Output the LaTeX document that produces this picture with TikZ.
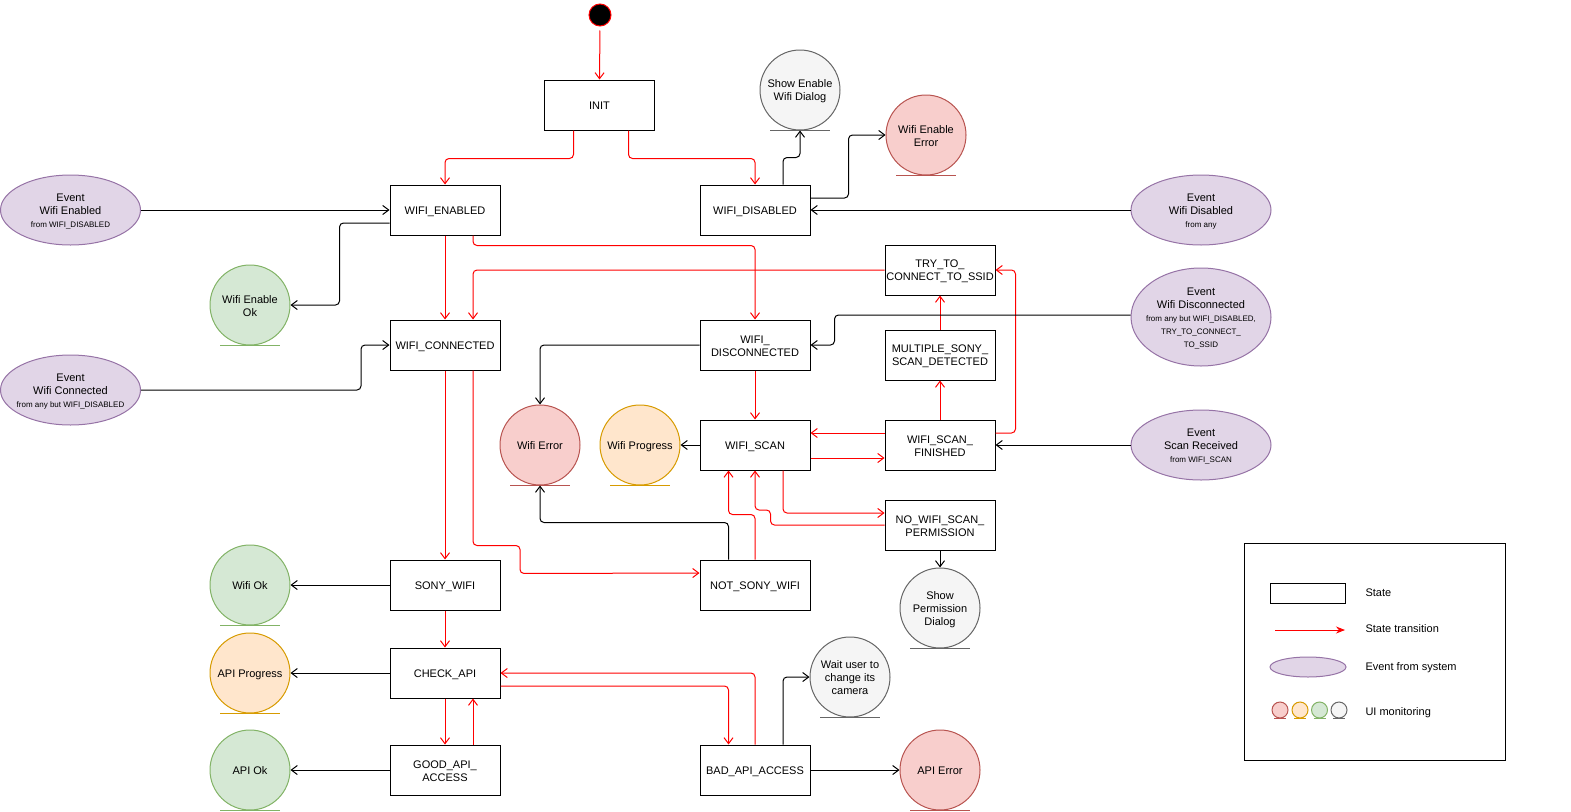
\documentclass[tikz,border=0pt]{standalone}
\usepackage{fontspec}
\setmainfont{Liberation Sans}
\usetikzlibrary{arrows.meta,shapes.geometric}
\definecolor{redS}{HTML}{B85450}\definecolor{redF}{HTML}{F8CECC}
\definecolor{orgS}{HTML}{D79B00}\definecolor{orgF}{HTML}{FFE6CC}
\definecolor{grnS}{HTML}{82B366}\definecolor{grnF}{HTML}{D5E8D4}
\definecolor{gryS}{HTML}{666666}\definecolor{gryF}{HTML}{F5F5F5}
\definecolor{purS}{HTML}{9673A6}\definecolor{purF}{HTML}{E1D5E7}
\definecolor{trRed}{HTML}{FF0000}
\newcommand\evsmall{\fontsize{8}{13}\selectfont}
\newcommand\tA{\rule{0pt}{11.1pt}}
\newcommand\tZ{\rule[-2.1pt]{0pt}{2.1pt}}
\begin{document}
\begin{tikzpicture}[x=1pt,y=-1pt,line width=1pt,font=\fontsize{11}{13}\selectfont,
  stbox/.style={draw=black,fill=white,minimum width=110pt,minimum height=50pt,inner sep=0pt,align=center},
  ui/.style={circle,minimum size=80pt,inner sep=0pt,align=center},
  uired/.style={ui,draw=redS,fill=redF},
  uiorg/.style={ui,draw=orgS,fill=orgF},
  uigrn/.style={ui,draw=grnS,fill=grnF},
  uigry/.style={ui,draw=gryS,fill=gryF},
  evt/.style={ellipse,draw=purS,fill=purF,minimum width=140pt,minimum height=70pt,inner sep=0pt},
  evtext/.style={align=center,inner sep=0pt},
  tr/.style={draw=trRed,-{Straight Barb[length=6pt,width=9pt]},rounded corners=4pt},
  ev/.style={draw=black,-{Straight Barb[length=6pt,width=9pt]},rounded corners=4pt},
  legtext/.style={anchor=west,inner sep=0pt}]
\useasboundingbox (0,0) rectangle (1571,811);

% start
\node[circle,fill=black,draw=trRed,minimum size=22pt,inner sep=0pt] (start) at (600,15) {};

% states
\node[stbox] (init) at (599.5,105) {\tA INIT\tZ};
\node[stbox] (wen) at (445,210) {\tA WIFI\_ENABLED\tZ};
\node[stbox] (wdis) at (755,210) {\tA WIFI\_DISABLED\tZ};
\node[stbox] (wcon) at (445,345) {\tA WIFI\_CONNECTED\tZ};
\node[stbox] (wdisc) at (755,345) {\tA WIFI\_\\DISCONNECTED\tZ};
\node[stbox] (try) at (940,270) {\tA TRY\_TO\_\\CONNECT\_TO\_SSID\tZ};
\node[stbox] (msd) at (940,355) {\tA MULTIPLE\_SONY\_\\SCAN\_DETECTED\tZ};
\node[stbox] (wscan) at (755,445) {\tA WIFI\_SCAN\tZ};
\node[stbox] (wsf) at (940,445) {\tA WIFI\_SCAN\_\\FINISHED\tZ};
\node[stbox] (nwsp) at (940,525) {\tA NO\_WIFI\_SCAN\_\\PERMISSION\tZ};
\node[stbox] (nsw) at (755,585) {\tA NOT\_SONY\_WIFI\tZ};
\node[stbox] (sony) at (445,585) {\tA SONY\_WIFI\tZ};
\node[stbox] (chk) at (445,673) {\tA CHECK\_API\tZ};
\node[stbox] (good) at (445,770) {\tA GOOD\_API\_\\ACCESS\tZ};
\node[stbox] (bad) at (755,770) {\tA BAD\_API\_ACCESS\tZ};

% UI circles
\node[uigry] (sed) at (800,90) {\tA Show Enable\\Wifi Dialog\tZ};
\node[uired] (wee) at (926,135) {\tA Wifi Enable\\Error\tZ};
\node[uigrn] (okEn) at (250,305) {\tA Wifi Enable\\Ok\tZ};
\node[uired] (werr) at (540,445) {\tA Wifi Error\tZ};
\node[uiorg] (wprog) at (640,445) {\tA Wifi Progress\tZ};
\node[uigry] (spd) at (940,608) {\tA Show\\Permission\\Dialog\tZ};
\node[uigry] (wait) at (850,677) {\tA Wait user to\\change its\\camera\tZ};
\node[uired] (aerr) at (940,770) {\tA API Error\tZ};
\node[uigrn] (wok) at (250,585) {\tA Wifi Ok\tZ};
\node[uiorg] (aprog) at (250,673) {\tA API Progress\tZ};
\node[uigrn] (aok) at (250,770) {\tA API Ok\tZ};
\foreach \n/\c in {sed/gryS,wee/redS,okEn/grnS,werr/redS,wprog/orgS,spd/gryS,wait/gryS,aerr/redS,wok/grnS,aprog/orgS,aok/grnS}
  \draw[\c] ([xshift=-30pt]\n.south) -- ([xshift=30pt]\n.south);

% events
\node[evt] (evEn) at (70.5,210) {};
\node[evtext] (evEnT) at (evEn) {\tA Event\\Wifi Enabled\\{\evsmall from WIFI\_DISABLED\tZ}};
\node[evt] (evCon) at (70.5,390) {};
\node[evtext] (evConT) at (evCon) {\tA Event\\Wifi Connected\\{\evsmall from any but WIFI\_DISABLED\tZ}};
\node[evt] (evDis) at (1201,210) {};
\node[evtext] (evDisT) at (evDis) {\tA Event\\Wifi Disabled\\{\evsmall from any\tZ}};
\node[evt,minimum height=98pt] (evDisc) at (1201,317) {};
\node[evtext] (evDiscT) at (evDisc) {\tA Event\\Wifi Disconnected\\{\evsmall from any but WIFI\_DISABLED,}\\{\evsmall TRY\_TO\_CONNECT\_}\\{\evsmall TO\_SSID\tZ}};
\node[evt] (evScan) at (1201,445) {};
\node[evtext] (evScanT) at (evScan) {\tA Event\\Scan Received\\{\evsmall from WIFI\_SCAN\tZ}};

% transitions (red)
\draw[tr,shorten <=4pt] (start.south) -- (init.north);
\draw[tr] ([xshift=-26pt]init.south) -- ++(0,28) -| (wen.north);
\draw[tr] ([xshift=29pt]init.south) -- ++(0,28) -| (wdis.north);
\draw[tr] (wen) -- (wcon);
\draw[tr] ([xshift=28pt]wen.south) -- ++(0,10) -| (wdisc.north);
\draw[tr] (try.west) -| ([xshift=28pt]wcon.north);
\draw[tr] (wdisc) -- (wscan);
\draw[tr] ([yshift=12pt]wsf.west) -- ([yshift=12pt]wscan.east);
\draw[tr] ([yshift=-13pt]wscan.east) -- ([yshift=-13pt]wsf.west);
\draw[tr] (wsf) -- (msd);
\draw[tr] (msd) -- (try);
\draw[tr] ([yshift=12pt]wsf.east) -- ++(20,0) |- (try.east);
\draw[tr] ([xshift=28pt]wscan.south) |- ([yshift=12pt]nwsp.west);
\draw[tr] (nwsp.west) -| ++(-114,-15) -| (wscan.south);
\draw[tr] (nsw.north) -- ++(0,-45) -| ([xshift=-26.5pt]wscan.south);
\draw[tr] (wcon) -- (sony);
\draw[tr] ([xshift=28pt]wcon.south) -- ++(0,175) -| ++(47,28) -- ([yshift=12pt]nsw.west);
\draw[tr] (sony) -- (chk);
\draw[tr] (chk) -- (good);
\draw[tr] ([xshift=28pt]good.north) -- ([xshift=28pt]chk.south);
\draw[tr] ([yshift=-13pt]chk.east) -| ([xshift=-26.5pt]bad.north);
\draw[tr] (bad.north) |- (chk.east);

% black connectors
\draw[ev] (evEn.east) -- (wen.west);
\draw[ev] ([yshift=-13pt]wen.west) -- ++(-50,0) |- (okEn.east);
\draw[ev] (evCon.east) -- ++(220,0) |- (wcon.west);
\draw[ev] ([xshift=28pt]wdis.north) -- ++(0,-27) -| (sed.south);
\draw[ev] ([yshift=12pt]wdis.east) -- ++(38,0) |- (wee.west);
\draw[ev] (evDis.west) -- (wdis.east);
\draw[ev] ([yshift=2pt]evDisc.west) -- ++(-296,0) |- (wdisc.east);
\draw[ev] (wdisc.west) -| (werr.north);
\draw[ev] (wscan.west) -- (wprog.east);
\draw[ev] (evScan.west) -- (wsf.east);
\draw[ev] ([xshift=-26.5pt]nsw.north) -- ++(0,-37) -| (werr.south);
\draw[ev] (sony.west) -- (wok.east);
\draw[ev] (chk.west) -- (aprog.east);
\draw[ev] (good.west) -- (aok.east);
\draw[ev] ([xshift=28pt]bad.north) |- (wait.west);
\draw[ev] (bad.east) -- (aerr.west);
\draw[ev] (nwsp.south) -- (spd.north);

% legend
\node[draw=black,minimum width=261pt,minimum height=217pt,inner sep=0pt] (leg) at (1374.5,651.5) {};
\node[draw=black,minimum width=75pt,minimum height=20pt,inner sep=0pt] (legState) at (1307.5,593) {};
\coordinate (legA1) at (1275,630);
\coordinate (legA2) at (1345,630);
\draw[draw=trRed,-{Stealth[length=9pt,width=7pt]}] (legA1) -- (legA2);
\node[ellipse,draw=purS,fill=purF,minimum width=76pt,minimum height=20pt,inner sep=0pt] (legEv) at (1308,667) {};
\foreach \x/\s/\f [count=\i] in {1280/redS/redF,1300/orgS/orgF,1319.5/grnS/grnF,1339/gryS/gryF}{
  \node[circle,draw=\s,fill=\f,minimum size=16pt,inner sep=0pt] (legC\i) at (\x,710) {};
  \draw[\s] ([xshift=-6pt]legC\i.south) -- ([xshift=6pt]legC\i.south);
}
\node[legtext] (legT1) at (1365,592) {\tA State\tZ};
\node[legtext] (legT2) at (1365,628) {\tA State transition\tZ};
\node[legtext] (legT3) at (1365,666) {\tA Event from system\tZ};
\node[legtext] (legT4) at (1365,711) {\tA UI monitoring\tZ};
\end{tikzpicture}
\end{document}
